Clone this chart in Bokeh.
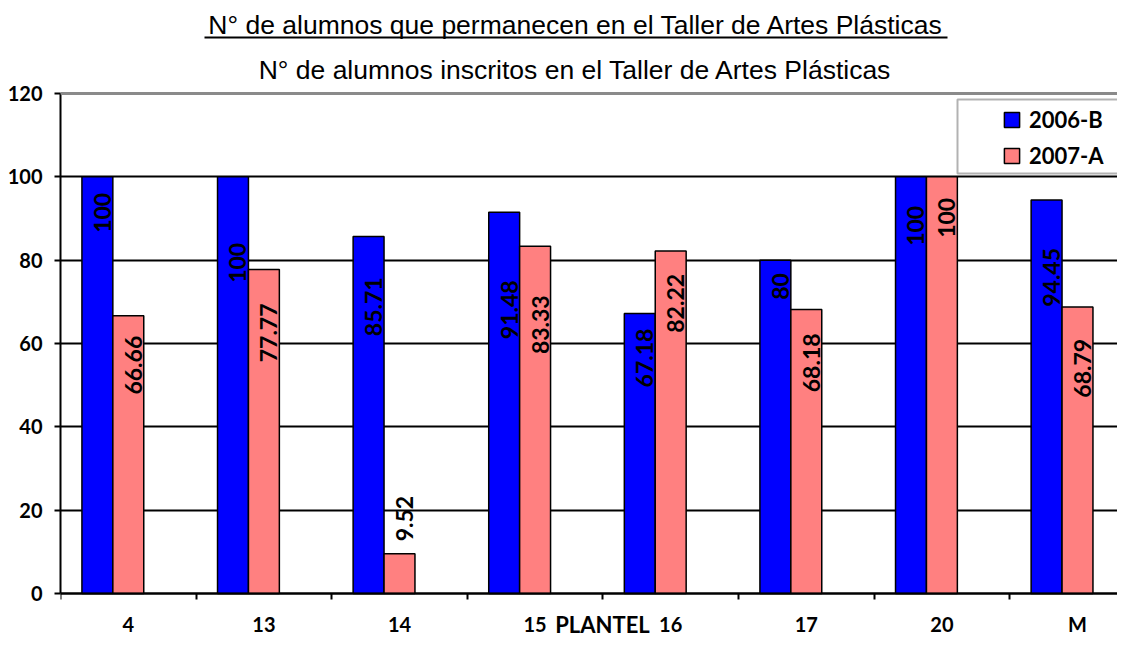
import numpy as np
from bokeh.plotting import figure
from bokeh.models import (Range1d, LinearAxis, FixedTicker, Span, Label, BoxAnnotation,
                          Legend, LegendItem, Grid)
from bokeh.core.properties import value
from bokeh.embed import file_html
from bokeh.resources import INLINE

# ---------------- data ----------------
categories = ["4", "13", "14", "15", "16", "17", "20", "M"]
values_2006b = [100, 100, 85.71, 91.48, 67.18, 80, 100, 94.45]
values_2007a = [66.66, 77.77, 9.52, 83.33, 82.22, 68.18, 100, 68.79]
series_names = ["2006-B", "2007-A"]
y_ticks = [0, 20, 40, 60, 80, 100, 120]
title_main = "N° de alumnos que permanecen en el Taller de Artes Plásticas"
title_sub = "N° de alumnos inscritos en el Taller de Artes Plásticas"
x_title = "PLANTEL"

# ---------------- styling / layout ----------------
BLUE = "#0000FF"
PINK = "#FF8080"
BAR_W = 0.228
# pixel drop of each rotated value label below its bar top (negative = above)
drop_2006b = [16, 66, 41, 68, 15, 13, 29, 48]
drop_2007a = [20, 34, -58, 49, 23, 24, 21, 32]

W, H = 1117, 638
LEFT = 60          # frame left edge (y axis line)
BASE_Y = 593       # pixel row of value 0
PX_PER_UNIT = 500 / 120
CAT_PX = 135.6
LABEL_SHIFT = 10   # empirical baseline correction for Label annotations

x_range = Range1d(0, (W - LEFT) / CAT_PX)
y_range = Range1d(-(H - BASE_Y) / PX_PER_UNIT, BASE_Y / PX_PER_UNIT)

p = figure(width=W, height=H, output_backend="svg", toolbar_location=None,
           x_range=x_range, y_range=y_range,
           x_axis_type=None, y_axis_type=None,
           min_border_left=LEFT, min_border_right=0, min_border_top=0, min_border_bottom=0)
p.outline_line_color = None
p.background_fill_color = "white"
p.border_fill_color = "white"

# grid
p.add_layout(Grid(dimension=1, ticker=FixedTicker(ticks=y_ticks),
                  grid_line_color="black", grid_line_width=2))

# y axis
yaxis = LinearAxis(ticker=FixedTicker(ticks=y_ticks), bounds=(0, 120),
                   axis_line_color="black", axis_line_width=2,
                   major_tick_out=6, major_tick_in=0, major_tick_line_width=2,
                   minor_tick_out=0, minor_tick_in=0,
                   major_label_standoff=12,
                   major_label_text_font="Lato", major_label_text_font_style="bold",
                   major_label_text_font_size="20px", major_label_text_color="black")
p.add_layout(yaxis, "left")

# x axis at value 0: labels at category centres, tick marks at boundaries
centers = np.arange(len(categories)) + 0.5
xaxis = LinearAxis(ticker=FixedTicker(ticks=list(centers),
                                      minor_ticks=list(range(len(categories) + 1))),
                   major_label_overrides={float(c): lab for c, lab in zip(centers, categories)},
                   fixed_location=0,
                   axis_line_color="black", axis_line_width=2,
                   major_tick_out=0, major_tick_in=0,
                   minor_tick_out=6, minor_tick_in=0, minor_tick_line_width=2,
                   minor_tick_line_color="black",
                   major_label_standoff=12,
                   major_label_text_font="Lato", major_label_text_font_style="bold",
                   major_label_text_font_size="20px", major_label_text_color="black")
p.add_layout(xaxis, "below")

# top grey line at 120
p.add_layout(Span(location=120, dimension="width", line_color="#8a8a8a", line_width=3))

# bars
x_b = centers - BAR_W
x_a = centers
r1 = p.vbar(x=x_b, top=values_2006b, width=BAR_W, fill_color=BLUE,
            line_color="black", line_width=1.5)
r2 = p.vbar(x=x_a, top=values_2007a, width=BAR_W, fill_color=PINK,
            line_color="black", line_width=1.5)

# value labels
for xs, vals, drops in ((x_b, values_2006b, drop_2006b), (x_a, values_2007a, drop_2007a)):
    p.text(x=xs, y=vals, text=[f"{v:g}" for v in vals], angle=np.pi / 2,
           text_align="right", text_baseline="middle", x_offset=5, y_offset=drops,
           text_font=value("Lato"), text_font_style="bold", text_font_size="23px",
           text_color="black")

def sx(px):  # canvas x -> frame screen units
    return px - LEFT

def sy(px):  # canvas y -> frame screen units (from bottom)
    return H - px

# legend box + legend
p.add_layout(BoxAnnotation(left=sx(957), right=sx(1300), top=sy(99), bottom=sy(173),
                           left_units="screen", right_units="screen",
                           top_units="screen", bottom_units="screen",
                           fill_color="white", fill_alpha=1,
                           line_color="black", line_width=2))
legend = Legend(items=[LegendItem(label=series_names[0], renderers=[r1]),
                       LegendItem(label=series_names[1], renderers=[r2])],
                location=(sx(1002), sy(169)), padding=0, margin=0, spacing=9,
                border_line_color=None, background_fill_alpha=0,
                glyph_width=19, glyph_height=19, label_height=19, label_standoff=8,
                label_text_font="Lato", label_text_font_style="bold",
                label_text_font_size="22px", label_text_color="black")
p.add_layout(legend, "center")

# titles
p.add_layout(Label(x=sx(575.5), y=sy(34 - LABEL_SHIFT), x_units="screen", y_units="screen",
                   text=title_main, text_align="center", text_baseline="alphabetic",
                   text_font="Liberation Sans", text_font_size="26.5px", text_color="black"))
p.add_layout(BoxAnnotation(left=sx(204), right=sx(947), top=sy(36), bottom=sy(38),
                           left_units="screen", right_units="screen",
                           top_units="screen", bottom_units="screen",
                           fill_color="black", fill_alpha=1, line_color=None))
p.add_layout(Label(x=sx(575), y=sy(79 - LABEL_SHIFT), x_units="screen", y_units="screen",
                   text=title_sub, text_align="center", text_baseline="alphabetic",
                   text_font="Liberation Sans", text_font_size="26.5px", text_color="black"))
p.add_layout(Label(x=sx(602), y=sy(634 - LABEL_SHIFT), x_units="screen", y_units="screen",
                   text=x_title, text_align="center", text_baseline="alphabetic",
                   text_font="Lato", text_font_style="bold", text_font_size="22px",
                   text_color="black"))

open("out.html", "w").write(file_html(p, INLINE))
